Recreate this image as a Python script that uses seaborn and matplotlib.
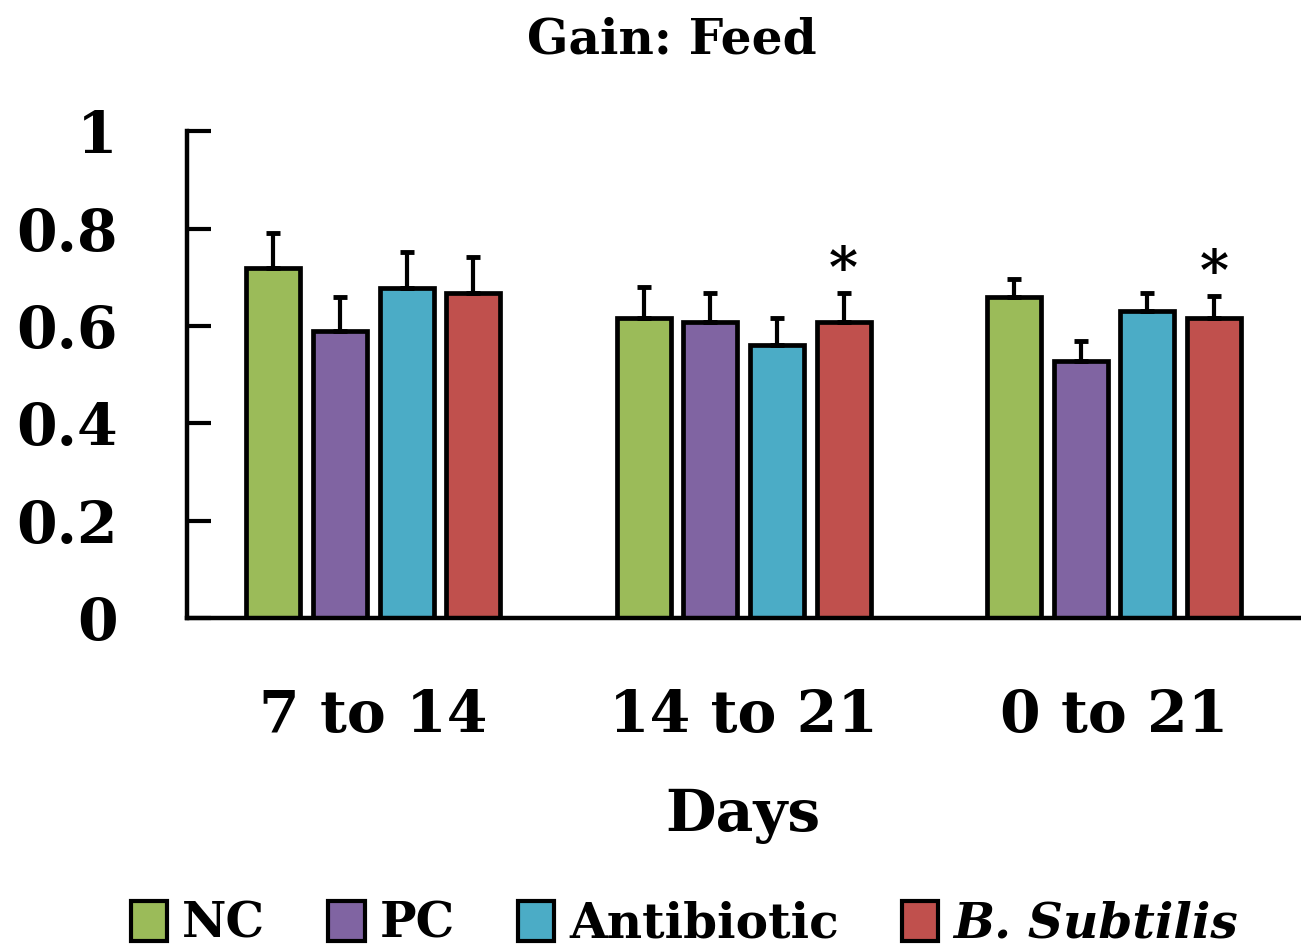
import matplotlib
matplotlib.use("Agg")
import matplotlib.pyplot as plt
import seaborn as sns
import pandas as pd
import numpy as np

periods = ["7 to 14", "14 to 21", "0 to 21"]
treatments = ["NC", "PC", "Antibiotic", "B. Subtilis"]
nc = [0.72, 0.616, 0.659]
pc = [0.589, 0.608, 0.528]
antibiotic = [0.678, 0.561, 0.630]
bsub = [0.667, 0.608, 0.616]
nc_err = [0.07, 0.064, 0.037]
pc_err = [0.07, 0.059, 0.041]
antibiotic_err = [0.074, 0.055, 0.037]
bsub_err = [0.074, 0.059, 0.045]
significant = [False, True, True]  # asterisk over B. Subtilis
colors = ["#9BBB59", "#8064A2", "#4BACC6", "#C0504D"]

sns.set_style("white")
plt.rcParams['font.family'] = ['DejaVu Serif']
plt.rcParams['text.color'] = 'black'
plt.rcParams['axes.labelcolor'] = 'black'
plt.rcParams['xtick.color'] = 'black'
plt.rcParams['ytick.color'] = 'black'

rows = []
for t, vals, errs in zip(treatments, [nc, pc, antibiotic, bsub],
                         [nc_err, pc_err, antibiotic_err, bsub_err]):
    for p, v, e in zip(periods, vals, errs):
        rows.append({"Days": p, "Treatment": t, "value": v, "err": e})
df = pd.DataFrame(rows)

fig = plt.figure(figsize=(13.01, 9.51), dpi=100)
ax = fig.add_axes([0.1437, 0.350, 0.855, 0.512])

sns.barplot(data=df, x="Days", y="value", hue="Treatment", order=periods,
            hue_order=treatments, palette=colors, width=0.72, gap=0.19,
            edgecolor="black", linewidth=3.4, errorbar=None, ax=ax,
            saturation=1)

# error bars (upper only)
for ti, t in enumerate(treatments):
    cont = ax.containers[ti]
    sub = df[df.Treatment == t].set_index("Days").loc[periods]
    xs = [b.get_x() + b.get_width() / 2 for b in cont]
    ys = sub["value"].values
    es = sub["err"].values
    ax.errorbar(xs, ys, yerr=[np.zeros_like(es), es], fmt="none",
                ecolor="black", elinewidth=3, capsize=5, capthick=3.5, zorder=1)
    if t == "B. Subtilis":
        for x, y, e, s in zip(xs, ys, es, significant):
            if s:
                ax.text(x, y + e - 0.012, "*", ha="center", va="bottom",
                        fontsize=40, fontweight="bold")

ax.set_ylim(0, 1.0)
ax.set_xlim(-0.503, 2.5)
ax.set_yticks([0, 0.2, 0.4, 0.6, 0.8, 1.0])
ax.set_yticklabels(["0", "0.2", "0.4", "0.6", "0.8", "1"])
for s in ["top", "right"]:
    ax.spines[s].set_visible(False)
for s in ["left", "bottom"]:
    ax.spines[s].set_linewidth(3.2)
    ax.spines[s].set_color("black")
ax.tick_params(axis="y", left=True, direction="in", length=17, width=3,
               labelsize=42, pad=50)
ax.tick_params(axis="x", bottom=False, length=0, labelsize=42, pad=50)
for lbl in ax.get_xticklabels() + ax.get_yticklabels():
    lbl.set_fontweight("bold")
ax.set_xlabel("Days", fontsize=42, labelpad=32, fontweight="bold")
ax.set_ylabel("")
ax.set_title("Gain: Feed", fontsize=35, pad=56, fontweight="bold", x=0.436)

handles, labels = ax.get_legend_handles_labels()
leg = fig.legend(handles, labels, loc="center", bbox_to_anchor=(0.526, 0.028),
                 ncol=4, frameon=False, handlelength=0.75,
                 handleheight=0.9, handletextpad=0.3, columnspacing=1.3,
                 prop={"weight": "bold", "size": 35})
for txt in leg.get_texts():
    if txt.get_text() == "B. Subtilis":
        txt.set_fontstyle("italic")
for h in leg.legend_handles:
    h.set_linewidth(3)
    h.set_edgecolor("black")
if ax.get_legend():
    ax.get_legend().remove()

fig.savefig("out.png", dpi=100)
